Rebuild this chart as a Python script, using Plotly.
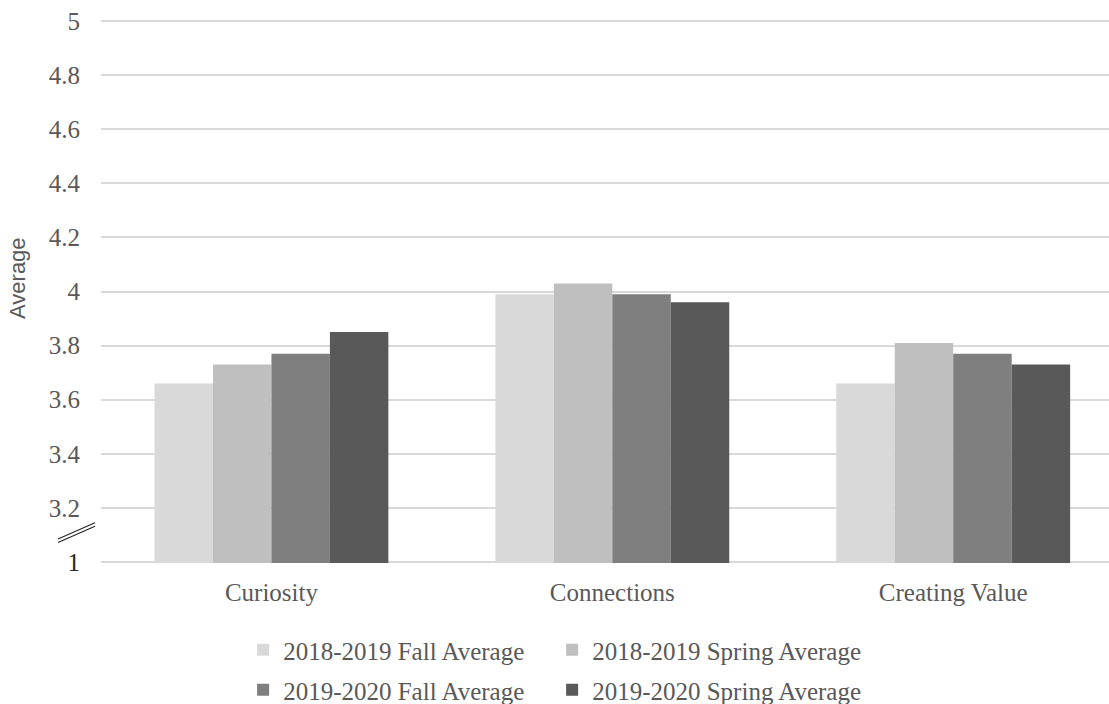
import plotly.graph_objects as go

categories = ["Curiosity", "Connections", "Creating Value"]
series_names = ["2018-2019 Fall Average", "2018-2019 Spring Average",
                "2019-2020 Fall Average", "2019-2020 Spring Average"]
fall_1819 = [3.66, 3.99, 3.66]
spring_1819 = [3.73, 4.03, 3.81]
fall_1920 = [3.77, 3.99, 3.77]
spring_1920 = [3.85, 3.96, 3.73]
colors = ["#d9d9d9", "#bfbfbf", "#7f7f7f", "#595959"]

tick_vals = [3.0, 3.2, 3.4, 3.6, 3.8, 4.0, 4.2, 4.4, 4.6, 4.8, 5.0]
tick_text = ['<span style="color:#262626">1</span>', "3.2", "3.4", "3.6", "3.8", "4", "4.2", "4.4", "4.6", "4.8", "5"]

SERIF = "Times New Roman"
TXT = "#595959"

fig = go.Figure()
all_series = [fall_1819, spring_1819, fall_1920, spring_1920]
legends = ["legend", "legend", "legend2", "legend2"]
for name, vals, col, lg in zip(series_names, all_series, colors, legends):
    fig.add_trace(go.Bar(x=categories, y=vals, name=name, marker_color=col,
                         marker_line_width=0, legend=lg))

fig.update_layout(
    width=1109, height=704,
    margin=dict(l=101, r=0, t=20, b=141, autoexpand=False),
    paper_bgcolor="white", plot_bgcolor="white",
    barmode="group", bargap=0.314, bargroupgap=0,
    font=dict(family=SERIF, size=25, color=TXT),
    xaxis=dict(range=[-0.5, 2.457], showgrid=False, zeroline=False, showline=False,
               ticks="", tickfont=dict(family=SERIF, size=25, color=TXT),
               ticklabelstandoff=12),
    yaxis=dict(range=[2.996, 5.004], tickvals=tick_vals, ticktext=tick_text,
               showgrid=True, gridcolor="#d9d9d9", gridwidth=2, zeroline=False,
               showline=False, ticks="", tickfont=dict(family=SERIF, size=25, color=TXT),
               ticklabelstandoff=20),
    legend=dict(orientation="h", x=0.141, xanchor="left", yref="container",
                y=1 - 650 / 704, yanchor="middle",
                font=dict(family=SERIF, size=25, color=TXT), entrywidth=264,
                bgcolor="rgba(0,0,0,0)", itemclick=False),
    legend2=dict(orientation="h", x=0.141, xanchor="left", yref="container",
                 y=1 - 690 / 704, yanchor="middle",
                 font=dict(family=SERIF, size=25, color=TXT), entrywidth=264,
                 bgcolor="rgba(0,0,0,0)", itemclick=False),
    showlegend=True,
)

fig.add_annotation(text="Average", xref="paper", yref="paper",
                   x=(18 - 101) / 1008, y=(562 - 278) / 541, textangle=-90,
                   showarrow=False, xanchor="center", yanchor="middle",
                   font=dict(family="Liberation Sans", size=22, color=TXT))

# axis break marks
for dy in (0.0, 0.013):
    fig.add_shape(type="line", xref="paper", yref="y",
                  x0=(58 - 101) / 1008, x1=(95 - 101) / 1008,
                  y0=3.072 + dy, y1=3.132 + dy,
                  line=dict(color="#262626", width=1.2))

fig.write_html("out.html")
